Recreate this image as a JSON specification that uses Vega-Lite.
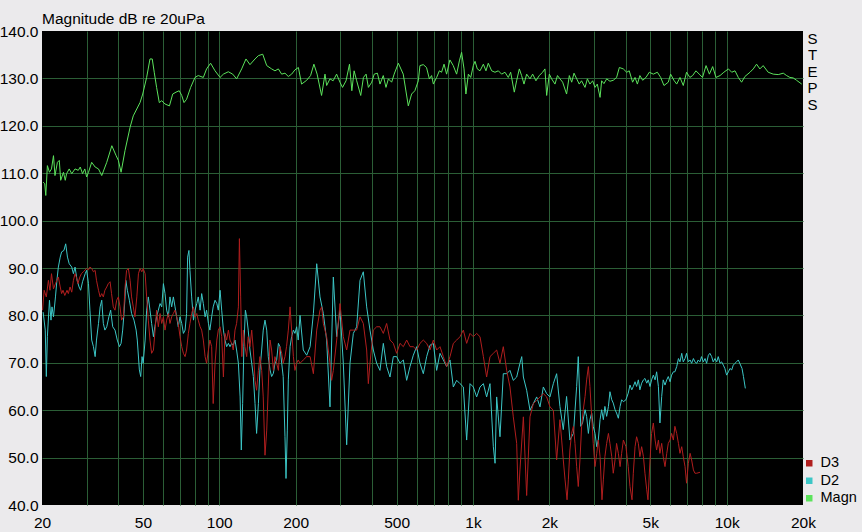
{
"$schema":"https://vega.github.io/schema/vega-lite/v6.json",
"width":761,"height":474,
"autosize":{"type":"none"},
"padding":{"left":42,"top":31,"right":59,"bottom":27},
"background":"#ebeaec",
"title":{"text":"Magnitude dB re 20uPa","anchor":"start","frame":"group","offset":-3,"fontSize":15.5,"fontWeight":"normal","font":"Liberation Sans","color":"black"},
"config":{"font":"Liberation Sans","view":{"fill":"#000000","stroke":null}},
"datasets":{
"magn":[{"f":20.2,"db":108.1},{"f":20.5,"db":107.8},{"f":20.7,"db":105.3},{"f":21.0,"db":111.6},{"f":21.4,"db":110.2},{"f":21.8,"db":110.9},{"f":22.2,"db":113.7},{"f":22.5,"db":109.5},{"f":23.0,"db":112.3},{"f":23.4,"db":112.7},{"f":23.7,"db":108.5},{"f":24.3,"db":110.2},{"f":24.7,"db":108.5},{"f":25.0,"db":109.9},{"f":25.6,"db":110.9},{"f":26.2,"db":109.9},{"f":27.0,"db":110.9},{"f":27.8,"db":110.6},{"f":28.3,"db":111.3},{"f":28.9,"db":109.9},{"f":29.5,"db":110.9},{"f":30.0,"db":109.2},{"f":30.5,"db":110.2},{"f":31.4,"db":112.3},{"f":32.4,"db":111.3},{"f":33.4,"db":110.9},{"f":34.4,"db":109.5},{"f":36.0,"db":112.3},{"f":37.7,"db":115.8},{"f":39.2,"db":113.7},{"f":40.0,"db":112.7},{"f":41.0,"db":110.2},{"f":42.5,"db":114.8},{"f":44.5,"db":119.7},{"f":45.8,"db":122.1},{"f":48.7,"db":124.9},{"f":49.9,"db":126.7},{"f":51.7,"db":130.2},{"f":53.3,"db":134.1},{"f":54.4,"db":134.1},{"f":55.4,"db":131.3},{"f":56.6,"db":128.1},{"f":58.0,"db":124.9},{"f":59.3,"db":125.3},{"f":61.1,"db":124.6},{"f":63.6,"db":124.2},{"f":65.5,"db":126.7},{"f":67.5,"db":127.1},{"f":69.5,"db":127.4},{"f":71.1,"db":126.4},{"f":72.6,"db":124.9},{"f":74.3,"db":125.6},{"f":77.1,"db":128.1},{"f":80.2,"db":130.2},{"f":82.6,"db":130.6},{"f":86.5,"db":130.2},{"f":89.1,"db":132.0},{"f":92.4,"db":133.2},{"f":96.2,"db":131.6},{"f":100.7,"db":130.2},{"f":103.8,"db":130.9},{"f":108.5,"db":131.4},{"f":112.9,"db":130.9},{"f":117.0,"db":129.9},{"f":122.5,"db":132.0},{"f":127.4,"db":134.1},{"f":132.1,"db":132.9},{"f":138.3,"db":134.1},{"f":142.6,"db":134.8},{"f":148.3,"db":135.1},{"f":153.8,"db":132.7},{"f":160.8,"db":132.0},{"f":165.7,"db":131.6},{"f":170.9,"db":132.0},{"f":176.1,"db":130.9},{"f":181.5,"db":131.1},{"f":187.1,"db":130.4},{"f":192.8,"db":130.9},{"f":198.7,"db":131.8},{"f":205,"db":132.3},{"f":211,"db":128.8},{"f":221,"db":129.6},{"f":229,"db":130.6},{"f":236,"db":133.0},{"f":243,"db":130.9},{"f":253,"db":126.4},{"f":261,"db":130.9},{"f":265,"db":128.5},{"f":273,"db":129.9},{"f":281,"db":129.5},{"f":290,"db":130.9},{"f":299,"db":129.2},{"f":306,"db":128.1},{"f":316,"db":129.5},{"f":326,"db":133.0},{"f":333,"db":127.4},{"f":340,"db":131.6},{"f":348,"db":129.5},{"f":361,"db":126.4},{"f":370,"db":130.2},{"f":379,"db":130.9},{"f":387,"db":128.1},{"f":399,"db":129.2},{"f":408,"db":130.9},{"f":420,"db":131.1},{"f":430,"db":128.8},{"f":443,"db":130.6},{"f":454,"db":128.1},{"f":464,"db":129.9},{"f":478,"db":129.2},{"f":489,"db":130.9},{"f":508,"db":133.2},{"f":531,"db":130.9},{"f":556,"db":124.2},{"f":573,"db":126.7},{"f":590,"db":127.4},{"f":609,"db":129.5},{"f":618,"db":132.7},{"f":637,"db":132.9},{"f":656,"db":132.3},{"f":673,"db":129.9},{"f":687,"db":130.6},{"f":698,"db":128.8},{"f":719,"db":130.2},{"f":737,"db":131.6},{"f":752,"db":131.3},{"f":769,"db":133.0},{"f":787,"db":130.9},{"f":811,"db":133.9},{"f":836,"db":132.7},{"f":862,"db":130.9},{"f":884,"db":133.7},{"f":902,"db":135.5},{"f":922,"db":132.0},{"f":938,"db":126.7},{"f":959,"db":130.9},{"f":980,"db":130.2},{"f":1003,"db":132.7},{"f":1019,"db":133.6},{"f":1040,"db":132.0},{"f":1066,"db":131.6},{"f":1099,"db":133.0},{"f":1125,"db":131.6},{"f":1149,"db":133.2},{"f":1185,"db":131.6},{"f":1221,"db":131.3},{"f":1259,"db":131.6},{"f":1297,"db":130.9},{"f":1337,"db":131.3},{"f":1378,"db":130.2},{"f":1408,"db":131.3},{"f":1455,"db":127.1},{"f":1486,"db":129.5},{"f":1523,"db":132.0},{"f":1555,"db":130.6},{"f":1589,"db":128.8},{"f":1628,"db":130.9},{"f":1678,"db":129.9},{"f":1719,"db":130.9},{"f":1771,"db":129.5},{"f":1825,"db":130.6},{"f":1882,"db":131.3},{"f":1922,"db":132.0},{"f":1952,"db":126.4},{"f":2000,"db":130.9},{"f":2042,"db":129.9},{"f":2105,"db":128.8},{"f":2153,"db":130.6},{"f":2203,"db":129.9},{"f":2257,"db":129.2},{"f":2339,"db":126.7},{"f":2398,"db":130.6},{"f":2450,"db":129.2},{"f":2502,"db":131.1},{"f":2564,"db":129.9},{"f":2624,"db":128.8},{"f":2679,"db":129.5},{"f":2765,"db":128.1},{"f":2825,"db":129.9},{"f":2891,"db":128.8},{"f":2964,"db":129.5},{"f":3027,"db":128.1},{"f":3091,"db":128.8},{"f":3170,"db":126.0},{"f":3215,"db":129.5},{"f":3283,"db":128.9},{"f":3366,"db":129.9},{"f":3467,"db":129.4},{"f":3573,"db":129.6},{"f":3683,"db":130.2},{"f":3776,"db":132.3},{"f":3915,"db":132.0},{"f":4036,"db":131.3},{"f":4131,"db":131.6},{"f":4259,"db":129.2},{"f":4354,"db":130.2},{"f":4447,"db":128.8},{"f":4550,"db":130.6},{"f":4667,"db":129.6},{"f":4809,"db":130.2},{"f":4955,"db":131.3},{"f":5141,"db":130.9},{"f":5333,"db":131.3},{"f":5495,"db":130.2},{"f":5662,"db":128.5},{"f":5888,"db":129.2},{"f":6014,"db":130.9},{"f":6196,"db":129.6},{"f":6355,"db":128.8},{"f":6548,"db":130.2},{"f":6746,"db":128.5},{"f":6950,"db":131.3},{"f":7161,"db":130.2},{"f":7345,"db":130.6},{"f":7568,"db":131.6},{"f":7798,"db":130.9},{"f":8034,"db":130.2},{"f":8295,"db":132.7},{"f":8551,"db":130.9},{"f":8810,"db":132.5},{"f":9078,"db":130.2},{"f":9419,"db":130.6},{"f":9751,"db":131.3},{"f":10161,"db":132.0},{"f":10471,"db":131.3},{"f":10790,"db":131.6},{"f":11117,"db":130.2},{"f":11455,"db":129.2},{"f":11803,"db":130.4},{"f":12361,"db":131.3},{"f":12735,"db":132.0},{"f":13122,"db":133.0},{"f":13521,"db":132.0},{"f":13932,"db":132.7},{"f":14583,"db":131.3},{"f":15264,"db":130.9},{"f":15977,"db":130.8},{"f":16722,"db":131.1},{"f":17234,"db":130.6},{"f":17761,"db":130.2},{"f":18305,"db":130.1},{"f":18865,"db":129.6},{"f":19770,"db":128.8}],
"d2":[{"f":20.2,"db":80.7},{"f":20.6,"db":76.9},{"f":20.8,"db":67.1},{"f":21.0,"db":75.5},{"f":21.4,"db":83.2},{"f":21.7,"db":79.0},{"f":21.9,"db":81.8},{"f":22.2,"db":79.7},{"f":22.6,"db":83.9},{"f":22.9,"db":87.4},{"f":23.2,"db":90.2},{"f":23.6,"db":92.3},{"f":23.9,"db":93.4},{"f":24.4,"db":93.7},{"f":24.8,"db":95.1},{"f":25.2,"db":92.3},{"f":25.6,"db":90.9},{"f":26.2,"db":90.2},{"f":26.6,"db":88.8},{"f":27.0,"db":90.2},{"f":27.5,"db":87.4},{"f":28.0,"db":86.0},{"f":28.4,"db":85.3},{"f":28.9,"db":87.1},{"f":29.6,"db":88.8},{"f":30.0,"db":89.5},{"f":30.5,"db":86.7},{"f":30.9,"db":81.1},{"f":31.4,"db":74.8},{"f":31.9,"db":73.4},{"f":32.4,"db":71.3},{"f":32.8,"db":74.8},{"f":33.4,"db":78.3},{"f":33.9,"db":81.8},{"f":34.4,"db":83.2},{"f":34.9,"db":78.3},{"f":35.4,"db":76.9},{"f":36.0,"db":77.6},{"f":36.7,"db":79.7},{"f":37.3,"db":81.1},{"f":38.0,"db":77.6},{"f":38.8,"db":76.9},{"f":39.6,"db":74.8},{"f":40.4,"db":73.4},{"f":41.0,"db":74.1},{"f":41.6,"db":76.9},{"f":42.1,"db":80.4},{"f":42.5,"db":83.9},{"f":42.8,"db":87.4},{"f":43.4,"db":85.3},{"f":44.2,"db":83.2},{"f":45.1,"db":80.4},{"f":46.1,"db":79.0},{"f":47.0,"db":76.9},{"f":47.5,"db":74.8},{"f":48.4,"db":68.5},{"f":49.0,"db":67.1},{"f":49.6,"db":71.3},{"f":50.1,"db":69.9},{"f":51.0,"db":74.8},{"f":51.7,"db":81.1},{"f":52.5,"db":83.9},{"f":53.3,"db":81.1},{"f":54.1,"db":78.3},{"f":55.0,"db":75.5},{"f":55.7,"db":77.6},{"f":56.6,"db":79.7},{"f":57.5,"db":81.1},{"f":58.4,"db":82.5},{"f":59.3,"db":81.8},{"f":60.2,"db":86.7},{"f":61.1,"db":84.6},{"f":62.0,"db":81.1},{"f":63.0,"db":79.7},{"f":63.9,"db":83.9},{"f":64.9,"db":81.8},{"f":65.9,"db":83.9},{"f":66.9,"db":81.8},{"f":67.9,"db":79.7},{"f":68.9,"db":77.6},{"f":70.0,"db":79.7},{"f":71.1,"db":78.3},{"f":72.2,"db":76.2},{"f":73.3,"db":76.9},{"f":74.3,"db":80.4},{"f":75.0,"db":92.3},{"f":75.9,"db":93.7},{"f":76.6,"db":89.5},{"f":77.8,"db":83.9},{"f":79.1,"db":79.0},{"f":80.2,"db":81.1},{"f":81.5,"db":82.5},{"f":82.6,"db":83.9},{"f":84.0,"db":81.1},{"f":85.2,"db":84.6},{"f":86.5,"db":82.5},{"f":87.9,"db":79.7},{"f":89.1,"db":81.1},{"f":90.6,"db":78.3},{"f":91.8,"db":76.9},{"f":93.3,"db":79.7},{"f":94.6,"db":81.8},{"f":96.2,"db":83.2},{"f":97.8,"db":82.5},{"f":99.1,"db":81.1},{"f":100.7,"db":85.3},{"f":102.2,"db":81.1},{"f":103.8,"db":76.9},{"f":105.3,"db":74.8},{"f":106.9,"db":73.4},{"f":108.6,"db":74.1},{"f":110.2,"db":73.4},{"f":111.9,"db":74.1},{"f":113.5,"db":73.7},{"f":115.3,"db":74.8},{"f":117.0,"db":72.7},{"f":118.9,"db":69.9},{"f":120.8,"db":62.8},{"f":122.1,"db":51.6},{"f":123.6,"db":61.4},{"f":125.0,"db":73.4},{"f":126.7,"db":81.1},{"f":128.2,"db":79.7},{"f":130.0,"db":76.9},{"f":132.1,"db":72.7},{"f":134.2,"db":69.9},{"f":136.2,"db":67.1},{"f":138.3,"db":61.4},{"f":140.3,"db":55.1},{"f":142.6,"db":61.4},{"f":144.6,"db":68.5},{"f":146.9,"db":72.7},{"f":149.0,"db":76.9},{"f":151.4,"db":79.0},{"f":153.8,"db":76.9},{"f":156.0,"db":71.3},{"f":158.5,"db":68.5},{"f":160.8,"db":67.1},{"f":163.4,"db":67.8},{"f":165.7,"db":69.9},{"f":168.3,"db":70.6},{"f":171.0,"db":74.1},{"f":173.4,"db":73.4},{"f":176.2,"db":69.9},{"f":178.6,"db":67.1},{"f":181.5,"db":54.4},{"f":183.2,"db":45.6},{"f":185.4,"db":55.8},{"f":187.1,"db":66.4},{"f":190.1,"db":73.4},{"f":192.8,"db":75.5},{"f":195.9,"db":76.9},{"f":198.7,"db":76.2},{"f":201.8,"db":77.6},{"f":204.7,"db":74.8},{"f":208.1,"db":80.0},{"f":214.3,"db":72.7},{"f":221.1,"db":71.6},{"f":228.0,"db":73.4},{"f":234.9,"db":80.4},{"f":242.1,"db":90.9},{"f":249.4,"db":83.9},{"f":257.1,"db":80.4},{"f":264.9,"db":74.8},{"f":273.1,"db":60.7},{"f":281.5,"db":88.1},{"f":290.2,"db":75.5},{"f":299.1,"db":81.1},{"f":308.2,"db":69.9},{"f":317.8,"db":52.7},{"f":327.5,"db":69.9},{"f":337.6,"db":76.2},{"f":348.0,"db":77.6},{"f":358.6,"db":87.4},{"f":369.6,"db":89.2},{"f":381.0,"db":81.8},{"f":392.7,"db":76.9},{"f":404.7,"db":72.7},{"f":417.2,"db":69.9},{"f":429.9,"db":68.4},{"f":443.2,"db":74.1},{"f":456.8,"db":69.2},{"f":470.9,"db":67.0},{"f":485.3,"db":71.3},{"f":500.2,"db":71.3},{"f":515.6,"db":69.9},{"f":531.4,"db":70.6},{"f":547.8,"db":66.3},{"f":564.6,"db":69.2},{"f":581.9,"db":71.6},{"f":599.8,"db":73.4},{"f":618.2,"db":69.9},{"f":637.2,"db":67.7},{"f":656.8,"db":71.3},{"f":676.9,"db":73.7},{"f":697.8,"db":74.1},{"f":719.2,"db":68.4},{"f":741.3,"db":72.0},{"f":764.1,"db":70.6},{"f":787.5,"db":69.2},{"f":811.8,"db":70.6},{"f":836.7,"db":64.9},{"f":862.5,"db":66.3},{"f":888.9,"db":65.6},{"f":916.2,"db":64.9},{"f":944.4,"db":53.7},{"f":973.4,"db":65.6},{"f":1003,"db":64.9},{"f":1034,"db":62.8},{"f":1066,"db":64.9},{"f":1099,"db":65.6},{"f":1132,"db":62.8},{"f":1167,"db":65.6},{"f":1203,"db":52.3},{"f":1222,"db":48.8},{"f":1240,"db":62.8},{"f":1278,"db":54.4},{"f":1317,"db":67.7},{"f":1358,"db":67.7},{"f":1399,"db":68.4},{"f":1442,"db":66.3},{"f":1487,"db":67.0},{"f":1532,"db":69.9},{"f":1557,"db":71.3},{"f":1580,"db":67.0},{"f":1628,"db":64.2},{"f":1678,"db":60.0},{"f":1730,"db":61.4},{"f":1783,"db":62.8},{"f":1838,"db":60.7},{"f":1894,"db":64.9},{"f":1952,"db":63.5},{"f":2012,"db":62.8},{"f":2074,"db":65.6},{"f":2137,"db":67.7},{"f":2202,"db":60.8},{"f":2270,"db":55.9},{"f":2339,"db":62.9},{"f":2410,"db":53.7},{"f":2489,"db":55.1},{"f":2563,"db":65.0},{"f":2601,"db":71.3},{"f":2660,"db":56.6},{"f":2704,"db":57.3},{"f":2766,"db":60.1},{"f":2806,"db":58.7},{"f":2851,"db":55.1},{"f":2891,"db":58.0},{"f":2938,"db":59.4},{"f":2979,"db":56.6},{"f":3027,"db":55.1},{"f":3076,"db":52.3},{"f":3119,"db":53.7},{"f":3170,"db":58.0},{"f":3215,"db":60.1},{"f":3266,"db":58.0},{"f":3312,"db":60.8},{"f":3365,"db":58.7},{"f":3420,"db":60.8},{"f":3467,"db":63.9},{"f":3524,"db":62.2},{"f":3573,"db":61.5},{"f":3631,"db":60.1},{"f":3682,"db":59.4},{"f":3742,"db":58.3},{"f":3802,"db":60.8},{"f":3855,"db":62.2},{"f":3917,"db":61.8},{"f":4009,"db":62.2},{"f":4093,"db":63.6},{"f":4159,"db":65.3},{"f":4227,"db":64.3},{"f":4286,"db":65.0},{"f":4355,"db":66.0},{"f":4416,"db":65.0},{"f":4487,"db":66.4},{"f":4550,"db":64.3},{"f":4624,"db":65.7},{"f":4699,"db":66.4},{"f":4764,"db":66.7},{"f":4842,"db":65.7},{"f":4910,"db":66.4},{"f":4989,"db":65.0},{"f":5059,"db":66.4},{"f":5141,"db":67.4},{"f":5224,"db":66.4},{"f":5297,"db":68.1},{"f":5383,"db":65.0},{"f":5458,"db":57.3},{"f":5546,"db":62.9},{"f":5623,"db":66.4},{"f":5715,"db":65.3},{"f":5807,"db":66.4},{"f":5888,"db":67.1},{"f":5984,"db":66.0},{"f":6067,"db":67.4},{"f":6166,"db":68.1},{"f":6252,"db":68.1},{"f":6355,"db":69.2},{"f":6457,"db":70.9},{"f":6547,"db":70.2},{"f":6653,"db":72.0},{"f":6745,"db":70.2},{"f":6855,"db":70.9},{"f":6950,"db":72.0},{"f":7063,"db":70.2},{"f":7178,"db":70.6},{"f":7278,"db":69.9},{"f":7396,"db":70.9},{"f":7499,"db":70.2},{"f":7621,"db":69.9},{"f":7727,"db":70.6},{"f":7852,"db":70.2},{"f":7962,"db":71.3},{"f":8091,"db":70.2},{"f":8222,"db":70.9},{"f":8337,"db":69.9},{"f":8472,"db":71.6},{"f":8590,"db":72.0},{"f":8730,"db":71.3},{"f":8851,"db":70.2},{"f":8995,"db":70.9},{"f":9141,"db":70.2},{"f":9268,"db":71.3},{"f":9419,"db":69.9},{"f":9550,"db":70.2},{"f":9705,"db":69.5},{"f":9840,"db":68.8},{"f":10000,"db":67.4},{"f":10162,"db":68.1},{"f":10304,"db":68.8},{"f":10471,"db":68.5},{"f":10617,"db":69.5},{"f":10789,"db":69.9},{"f":10940,"db":70.2},{"f":11117,"db":70.6},{"f":11500,"db":68.8},{"f":11650,"db":67.1},{"f":11850,"db":64.6}],
"d3":[{"f":20.1,"db":81.1},{"f":20.4,"db":85.3},{"f":20.8,"db":83.9},{"f":21.2,"db":87.4},{"f":21.5,"db":85.3},{"f":21.8,"db":88.8},{"f":22.2,"db":85.6},{"f":22.6,"db":86.7},{"f":22.9,"db":87.4},{"f":23.2,"db":88.1},{"f":23.6,"db":86.0},{"f":23.9,"db":84.6},{"f":24.2,"db":85.3},{"f":24.6,"db":84.2},{"f":25.1,"db":85.3},{"f":25.4,"db":84.6},{"f":25.8,"db":86.0},{"f":26.2,"db":84.9},{"f":26.6,"db":87.4},{"f":27.0,"db":88.8},{"f":27.3,"db":88.1},{"f":27.7,"db":86.7},{"f":28.2,"db":88.1},{"f":28.6,"db":88.8},{"f":29.1,"db":89.2},{"f":30.0,"db":89.9},{"f":30.5,"db":89.6},{"f":30.9,"db":90.2},{"f":31.4,"db":89.9},{"f":31.9,"db":89.2},{"f":32.4,"db":89.5},{"f":32.8,"db":87.4},{"f":33.4,"db":85.3},{"f":33.9,"db":83.9},{"f":34.4,"db":84.6},{"f":34.9,"db":83.9},{"f":35.4,"db":85.3},{"f":36.0,"db":86.0},{"f":36.5,"db":86.7},{"f":37.1,"db":87.1},{"f":37.6,"db":84.6},{"f":38.2,"db":81.8},{"f":38.8,"db":81.1},{"f":39.4,"db":83.2},{"f":40.0,"db":83.9},{"f":40.6,"db":81.8},{"f":41.2,"db":79.0},{"f":41.9,"db":79.7},{"f":42.5,"db":86.0},{"f":43.1,"db":89.5},{"f":43.8,"db":89.9},{"f":44.5,"db":87.4},{"f":45.1,"db":83.9},{"f":45.8,"db":81.8},{"f":46.5,"db":79.7},{"f":47.3,"db":83.9},{"f":48.0,"db":88.8},{"f":48.7,"db":89.9},{"f":49.5,"db":89.2},{"f":50.1,"db":89.9},{"f":51.0,"db":88.8},{"f":51.7,"db":83.9},{"f":52.5,"db":79.0},{"f":53.3,"db":74.8},{"f":54.1,"db":72.0},{"f":55.0,"db":72.7},{"f":55.7,"db":76.2},{"f":56.6,"db":81.1},{"f":57.5,"db":77.6},{"f":58.4,"db":80.4},{"f":59.3,"db":78.3},{"f":60.2,"db":79.7},{"f":61.1,"db":76.9},{"f":62.0,"db":79.0},{"f":63.0,"db":80.4},{"f":63.9,"db":78.3},{"f":64.9,"db":79.7},{"f":65.9,"db":80.4},{"f":66.9,"db":81.1},{"f":67.9,"db":79.7},{"f":68.9,"db":78.3},{"f":70.0,"db":75.5},{"f":71.1,"db":73.4},{"f":72.2,"db":72.0},{"f":73.3,"db":71.3},{"f":74.3,"db":72.7},{"f":75.5,"db":76.2},{"f":76.6,"db":78.3},{"f":77.8,"db":80.4},{"f":79.1,"db":81.8},{"f":80.2,"db":79.7},{"f":81.5,"db":80.4},{"f":82.6,"db":79.0},{"f":84.0,"db":77.6},{"f":85.2,"db":76.9},{"f":86.5,"db":74.8},{"f":87.9,"db":71.3},{"f":89.1,"db":69.9},{"f":90.6,"db":72.7},{"f":91.8,"db":74.8},{"f":93.3,"db":73.4},{"f":94.6,"db":61.4},{"f":96.2,"db":69.9},{"f":97.8,"db":74.8},{"f":99.1,"db":76.9},{"f":100.7,"db":77.6},{"f":102.2,"db":75.5},{"f":103.8,"db":67.0},{"f":105.3,"db":76.2},{"f":106.9,"db":74.8},{"f":108.6,"db":76.9},{"f":110.2,"db":74.8},{"f":111.9,"db":74.1},{"f":113.5,"db":72.7},{"f":115.3,"db":76.9},{"f":117.0,"db":78.3},{"f":118.9,"db":81.8},{"f":120.0,"db":96.2},{"f":121.4,"db":83.9},{"f":122.7,"db":71.3},{"f":124.4,"db":76.9},{"f":126.2,"db":73.4},{"f":128.2,"db":71.3},{"f":130.0,"db":75.5},{"f":132.1,"db":73.4},{"f":134.2,"db":76.9},{"f":136.2,"db":72.7},{"f":138.3,"db":66.3},{"f":140.3,"db":64.2},{"f":142.6,"db":68.4},{"f":144.6,"db":71.3},{"f":146.9,"db":68.4},{"f":149.0,"db":62.8},{"f":151.4,"db":50.5},{"f":153.8,"db":55.8},{"f":156.0,"db":64.9},{"f":158.5,"db":74.8},{"f":160.8,"db":72.7},{"f":163.4,"db":68.4},{"f":165.7,"db":71.3},{"f":168.3,"db":69.9},{"f":171.0,"db":68.4},{"f":173.4,"db":73.4},{"f":176.2,"db":72.0},{"f":178.6,"db":69.9},{"f":181.5,"db":71.3},{"f":184.1,"db":73.4},{"f":187.1,"db":76.9},{"f":190.1,"db":81.8},{"f":192.8,"db":76.9},{"f":195.9,"db":71.3},{"f":198.7,"db":68.4},{"f":201.8,"db":69.9},{"f":204.7,"db":70.6},{"f":208.1,"db":69.9},{"f":214.3,"db":70.6},{"f":221.1,"db":71.3},{"f":228.0,"db":71.3},{"f":234.9,"db":67.7},{"f":242.1,"db":76.9},{"f":249.4,"db":81.1},{"f":253.3,"db":81.8},{"f":257.1,"db":78.3},{"f":264.9,"db":75.5},{"f":273.1,"db":69.9},{"f":277.2,"db":66.3},{"f":281.5,"db":68.4},{"f":290.2,"db":74.8},{"f":299.1,"db":82.5},{"f":308.2,"db":75.5},{"f":317.8,"db":72.7},{"f":327.5,"db":76.9},{"f":337.6,"db":76.9},{"f":348.0,"db":76.9},{"f":358.6,"db":79.7},{"f":369.6,"db":78.3},{"f":381.0,"db":72.7},{"f":386.8,"db":65.6},{"f":392.7,"db":69.9},{"f":404.7,"db":76.9},{"f":417.2,"db":77.6},{"f":429.9,"db":77.6},{"f":443.2,"db":76.2},{"f":456.8,"db":78.3},{"f":470.9,"db":74.8},{"f":485.3,"db":74.1},{"f":500.2,"db":72.0},{"f":515.6,"db":74.1},{"f":531.4,"db":73.4},{"f":547.8,"db":74.8},{"f":564.6,"db":73.4},{"f":581.9,"db":73.4},{"f":599.8,"db":72.7},{"f":618.2,"db":74.1},{"f":637.2,"db":74.8},{"f":656.8,"db":74.1},{"f":676.9,"db":72.7},{"f":697.8,"db":74.8},{"f":719.2,"db":72.7},{"f":741.3,"db":73.4},{"f":764.1,"db":71.3},{"f":787.5,"db":69.2},{"f":811.8,"db":71.3},{"f":836.7,"db":74.1},{"f":862.5,"db":74.8},{"f":888.9,"db":75.5},{"f":916.2,"db":76.9},{"f":944.4,"db":74.1},{"f":973.4,"db":76.2},{"f":1003,"db":75.5},{"f":1034,"db":76.2},{"f":1066,"db":75.5},{"f":1099,"db":71.3},{"f":1132,"db":67.0},{"f":1167,"db":71.3},{"f":1203,"db":72.0},{"f":1240,"db":72.7},{"f":1278,"db":69.9},{"f":1317,"db":73.4},{"f":1358,"db":68.4},{"f":1399,"db":64.9},{"f":1442,"db":58.6},{"f":1487,"db":53.0},{"f":1509,"db":41.0},{"f":1532,"db":47.4},{"f":1580,"db":58.6},{"f":1628,"db":42.0},{"f":1678,"db":58.6},{"f":1730,"db":61.4},{"f":1783,"db":62.1},{"f":1838,"db":62.8},{"f":1894,"db":63.5},{"f":1952,"db":62.8},{"f":2012,"db":60.7},{"f":2074,"db":60.0},{"f":2137,"db":49.5},{"f":2202,"db":58.0},{"f":2237,"db":53.7},{"f":2270,"db":49.5},{"f":2307,"db":45.3},{"f":2349,"db":41.1},{"f":2377,"db":45.3},{"f":2410,"db":51.6},{"f":2448,"db":55.1},{"f":2489,"db":56.6},{"f":2524,"db":53.0},{"f":2563,"db":48.1},{"f":2601,"db":43.9},{"f":2641,"db":49.5},{"f":2681,"db":56.6},{"f":2722,"db":60.1},{"f":2766,"db":62.9},{"f":2806,"db":66.4},{"f":2851,"db":69.2},{"f":2891,"db":65.0},{"f":2938,"db":58.7},{"f":2979,"db":53.0},{"f":3027,"db":48.1},{"f":3076,"db":50.9},{"f":3119,"db":53.7},{"f":3170,"db":50.2},{"f":3225,"db":41.1},{"f":3266,"db":45.3},{"f":3312,"db":50.2},{"f":3365,"db":53.0},{"f":3420,"db":55.1},{"f":3467,"db":53.0},{"f":3524,"db":50.2},{"f":3573,"db":46.7},{"f":3631,"db":49.5},{"f":3682,"db":53.0},{"f":3742,"db":50.9},{"f":3802,"db":48.1},{"f":3855,"db":50.9},{"f":3917,"db":53.7},{"f":4009,"db":52.3},{"f":4093,"db":48.1},{"f":4159,"db":43.9},{"f":4236,"db":41.1},{"f":4286,"db":46.7},{"f":4355,"db":52.3},{"f":4416,"db":54.4},{"f":4487,"db":53.0},{"f":4550,"db":50.2},{"f":4624,"db":52.3},{"f":4699,"db":50.2},{"f":4764,"db":46.7},{"f":4842,"db":43.2},{"f":4896,"db":41.1},{"f":4989,"db":49.5},{"f":5059,"db":55.1},{"f":5141,"db":57.3},{"f":5224,"db":53.7},{"f":5297,"db":51.6},{"f":5383,"db":53.7},{"f":5458,"db":50.9},{"f":5546,"db":53.0},{"f":5623,"db":50.2},{"f":5715,"db":48.1},{"f":5807,"db":50.9},{"f":5888,"db":53.0},{"f":5984,"db":53.7},{"f":6067,"db":55.1},{"f":6166,"db":53.7},{"f":6252,"db":56.6},{"f":6355,"db":55.1},{"f":6457,"db":53.0},{"f":6547,"db":50.9},{"f":6653,"db":52.3},{"f":6745,"db":50.2},{"f":6855,"db":48.1},{"f":6950,"db":44.6},{"f":7063,"db":48.8},{"f":7178,"db":50.9},{"f":7278,"db":49.5},{"f":7396,"db":47.4},{"f":7499,"db":46.7},{"f":7621,"db":46.7},{"f":7852,"db":46.9}]
},
"encoding":{
 "x":{"field":"f","type":"quantitative","scale":{"type":"log","domain":[20,20000],"nice":false},
  "axis":{"values":[20,30,40,50,60,70,80,90,100,200,300,400,500,600,700,800,900,1000,2000,3000,4000,5000,6000,7000,8000,9000,10000,20000],
   "labelExpr":"indexof([20,50,100,200,500,1000,2000,5000,10000,20000], datum.value) >= 0 ? (datum.value >= 1000 ? (datum.value/1000) + 'k' : '' + datum.value) : ''",
   "grid":true,"gridColor":{"condition":{"test":"datum.value == 20 || datum.value == 20000","value":"transparent"},"value":"#2b5e36"},
   "ticks":false,"tickSize":0,"domain":false,"labelPadding":10,"labelFontSize":15.5,"labelFont":"Liberation Sans","labelColor":"black","title":null,"labelFlush":false,"labelOverlap":false,"labelBound":false}}
},
"resolve":{"axis":{"y":"independent"}},
"layer":[
{"data":{"name":"d2"},
 "mark":{"type":"line","strokeWidth":1,"clip":true},
 "encoding":{
  "y":{"field":"db","type":"quantitative","scale":{"domain":[40,140],"nice":false,"zero":false},
   "axis":{"values":[40,50,60,70,80,90,100,110,120,130,140],"format":".1f",
    "grid":true,"gridColor":{"condition":{"test":"datum.value == 40 || datum.value == 140","value":"transparent"},"value":"#2b5e36"},
    "ticks":false,"tickSize":0,"domain":false,"labelPadding":4,"labelFontSize":15.5,"labelFont":"Liberation Sans","labelColor":"black","title":null,"labelOverlap":false,"labelFlush":false}},
  "color":{"datum":"D2","type":"nominal",
   "scale":{"domain":["D3","D2","Magn"],"range":["#b01e1e","#3cc6c6","#5ce35c"]},
   "legend":{"orient":"none","legendX":760,"legendY":425,"title":null,"symbolType":"square","symbolSize":42,"symbolStrokeWidth":0,"labelFontSize":14.5,"labelFont":"Liberation Sans","labelColor":"black","rowPadding":2.5,"labelOffset":4,"padding":0,
    "encode":{"symbols":{"update":{"fill":{"scale":"color","field":"value"},"strokeWidth":{"value":0},"opacity":{"value":1}}}}}}
 }},
{"data":{"name":"d3"},
 "mark":{"type":"line","strokeWidth":1,"clip":true},
 "encoding":{
  "y":{"field":"db","type":"quantitative","axis":null},
  "color":{"datum":"D3","type":"nominal"}
 }},
{"data":{"name":"magn"},
 "mark":{"type":"line","strokeWidth":1,"clip":true},
 "encoding":{
  "y":{"field":"db","type":"quantitative",
   "axis":{"orient":"right","labels":false,"ticks":false,"domain":false,"grid":false,"title":["S","T","E","P","S"],"titleAngle":0,"titleAlign":"center","titleBaseline":"top","titleX":9,"titleY":0,"titleFontSize":15,"titleFontWeight":"normal","titleFont":"Liberation Sans","titleColor":"black","titleLineHeight":16.5}},
  "color":{"datum":"Magn","type":"nominal"}
 }}
]
}
